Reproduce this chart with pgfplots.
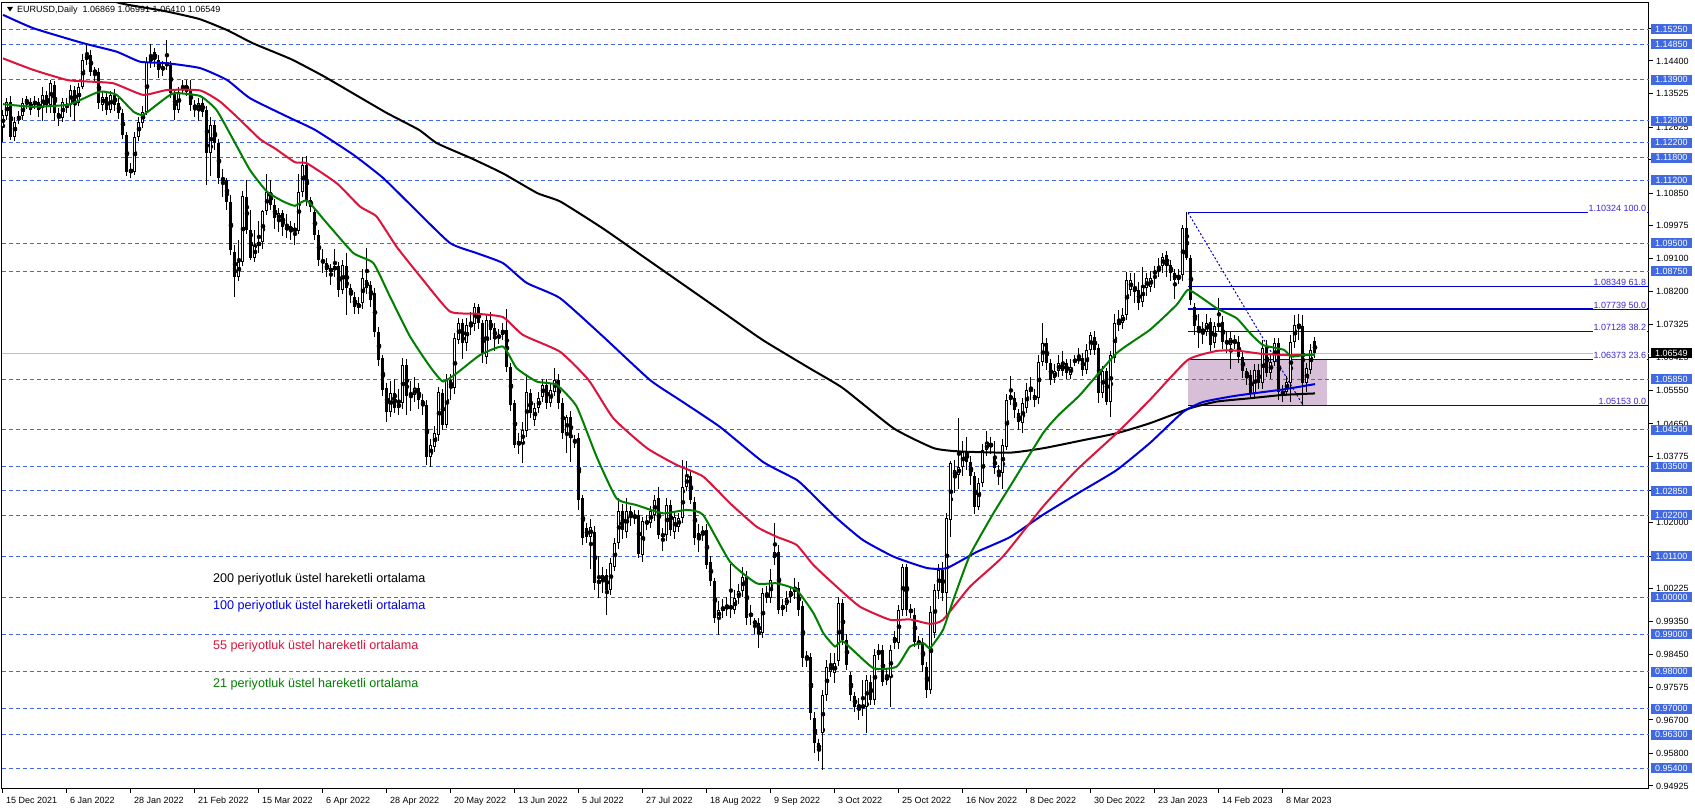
\documentclass[border=0pt]{standalone}
\usepackage{pgfplots}
\pgfplotsset{compat=1.18}
\usepackage{pgfplotstable}
\usepackage{fontspec}
\setmainfont{Liberation Sans}
\definecolor{hl}{RGB}{65,105,225}
\definecolor{fibc}{RGB}{0,0,205}
\definecolor{fibt}{RGB}{60,40,210}
\definecolor{thist}{RGB}{216,191,216}
\definecolor{emag}{RGB}{0,128,0}
\definecolor{emar}{RGB}{220,20,60}
\definecolor{emab}{RGB}{0,0,220}
\definecolor{pline}{RGB}{192,192,192}

\pgfplotstableread{
i o h l c
0 1.1264 1.1308 1.1223 1.1295
1 1.1291 1.1340 1.1282 1.1331
2 1.1331 1.1345 1.1228 1.1237
3 1.1237 1.1290 1.1225 1.1277
4 1.1282 1.1305 1.1270 1.1291
5 1.1291 1.1340 1.1282 1.1326
6 1.1326 1.1345 1.1310 1.1337
7 1.1331 1.1340 1.1295 1.1309
8 1.1324 1.1345 1.1310 1.1330
9 1.1330 1.1340 1.1290 1.1309
10 1.1313 1.1370 1.1280 1.1349
11 1.1349 1.1360 1.1300 1.1322
12 1.1322 1.1390 1.1300 1.1380
13 1.1376 1.1385 1.1280 1.1300
14 1.1300 1.1315 1.1265 1.1286
15 1.1286 1.1340 1.1275 1.1331
16 1.1317 1.1340 1.1300 1.1322
17 1.1322 1.1375 1.1290 1.1362
18 1.1362 1.1372 1.1280 1.1326
19 1.1326 1.1380 1.1318 1.1371
20 1.1371 1.1460 1.1365 1.1443
21 1.1443 1.1487 1.1430 1.1456
22 1.1456 1.1470 1.1400 1.1411
23 1.1416 1.1425 1.1385 1.1407
24 1.1411 1.1420 1.1310 1.1326
25 1.1322 1.1360 1.1305 1.1344
26 1.1344 1.1355 1.1295 1.1309
27 1.1309 1.1360 1.1300 1.1349
28 1.1349 1.1365 1.1305 1.1322
29 1.1326 1.1340 1.1285 1.1300
30 1.1300 1.1310 1.1230 1.1241
31 1.1241 1.1250 1.1130 1.1143
32 1.1147 1.1165 1.1125 1.1141
33 1.1143 1.1250 1.1135 1.1237
34 1.1237 1.1290 1.1225 1.1277
35 1.1273 1.1320 1.1260 1.1304
36 1.1304 1.1450 1.1295 1.1438
37 1.1438 1.1487 1.1420 1.1452
38 1.1465 1.1475 1.1425 1.1443
39 1.1443 1.1455 1.1395 1.1416
40 1.1416 1.1440 1.1400 1.1425
41 1.1434 1.1496 1.1415 1.1429
42 1.1429 1.1440 1.1340 1.1353
43 1.1353 1.1365 1.1282 1.1309
44 1.1309 1.1370 1.1300 1.1358
45 1.1362 1.1390 1.1350 1.1371
46 1.1376 1.1390 1.1345 1.1358
47 1.1362 1.1390 1.1305 1.1322
48 1.1322 1.1335 1.1290 1.1313
49 1.1309 1.1340 1.1280 1.1326
50 1.1326 1.1340 1.1290 1.1304
51 1.1309 1.1320 1.1106 1.1192
52 1.1192 1.1290 1.1130 1.1268
53 1.1268 1.1280 1.1200 1.1219
54 1.1219 1.1230 1.1110 1.1125
55 1.1125 1.1150 1.1075 1.1120
56 1.1120 1.1125 1.1040 1.1062
57 1.1062 1.1080 1.0920 1.0933
58 1.0928 1.0945 1.0806 1.0861
59 1.0861 1.0960 1.0850 1.0901
60 1.0901 1.1090 1.0890 1.1076
61 1.1076 1.1120 1.0975 1.0985
62 1.0985 1.1040 1.0905 1.0912
63 1.0912 1.0985 1.0900 1.0942
64 1.0942 1.1010 1.0925 1.0955
65 1.0955 1.1040 1.0935 1.1037
66 1.1037 1.1137 1.1025 1.1089
67 1.1089 1.1120 1.1040 1.1053
68 1.1053 1.1070 1.0990 1.1017
69 1.1013 1.1045 1.0980 1.1031
70 1.1031 1.1040 1.0970 1.0995
71 1.0995 1.1030 1.0965 1.0986
72 1.0996 1.1010 1.0960 1.0983
73 1.0985 1.1005 1.0946 1.0988
74 1.0982 1.1137 1.0975 1.1089
75 1.1089 1.1183 1.1075 1.1161
76 1.1161 1.1185 1.1050 1.1063
77 1.1067 1.1075 1.1035 1.1049
78 1.1035 1.1045 1.0960 1.0973
79 1.0973 1.0985 1.0890 1.0906
80 1.0906 1.0935 1.0870 1.0897
81 1.0897 1.0910 1.0860 1.0879
82 1.0883 1.0895 1.0838 1.0874
83 1.0879 1.0935 1.0860 1.0888
84 1.0888 1.0900 1.0805 1.0825
85 1.0825 1.0905 1.0815 1.0892
86 1.0888 1.0925 1.0758 1.0829
87 1.0829 1.0840 1.0790 1.0812
88 1.0807 1.0820 1.0760 1.0780
89 1.0776 1.0805 1.0760 1.0789
90 1.0789 1.0880 1.0775 1.0856
91 1.0852 1.0937 1.0815 1.0829
92 1.0838 1.0850 1.0780 1.0798
93 1.0816 1.0830 1.0700 1.0713
94 1.0713 1.0725 1.0620 1.0637
95 1.0642 1.0650 1.0540 1.0556
96 1.0561 1.0575 1.0471 1.0498
97 1.0498 1.0580 1.0485 1.0547
98 1.0547 1.0585 1.0495 1.0507
99 1.0507 1.0560 1.0490 1.0522
100 1.0521 1.0642 1.0505 1.0624
101 1.0624 1.0640 1.0490 1.0539
102 1.0543 1.0580 1.0500 1.0547
103 1.0543 1.0590 1.0525 1.0561
104 1.0561 1.0575 1.0505 1.0530
105 1.0530 1.0545 1.0490 1.0512
106 1.0516 1.0530 1.0355 1.0377
107 1.0377 1.0425 1.0350 1.0409
108 1.0404 1.0460 1.0390 1.0440
109 1.0436 1.0565 1.0420 1.0552
110 1.0547 1.0560 1.0450 1.0462
111 1.0462 1.0600 1.0455 1.0583
112 1.0583 1.0600 1.0530 1.0561
113 1.0561 1.0710 1.0545 1.0695
114 1.0691 1.0750 1.0680 1.0735
115 1.0735 1.0748 1.0640 1.0682
116 1.0682 1.0750 1.0660 1.0731
117 1.0727 1.0765 1.0705 1.0733
118 1.0733 1.0789 1.0715 1.0780
119 1.0780 1.0787 1.0720 1.0735
120 1.0735 1.0745 1.0630 1.0655
121 1.0646 1.0760 1.0625 1.0744
122 1.0744 1.0765 1.0690 1.0718
123 1.0722 1.0735 1.0660 1.0695
124 1.0695 1.0720 1.0680 1.0704
125 1.0704 1.0735 1.0690 1.0718
126 1.0718 1.0773 1.0605 1.0619
127 1.0619 1.0630 1.0500 1.0516
128 1.0521 1.0530 1.0400 1.0409
129 1.0409 1.0440 1.0385 1.0418
130 1.0413 1.0470 1.0359 1.0449
131 1.0445 1.0600 1.0430 1.0552
132 1.0547 1.0560 1.0480 1.0494
133 1.0476 1.0520 1.0460 1.0507
134 1.0507 1.0550 1.0495 1.0534
135 1.0538 1.0585 1.0525 1.0570
136 1.0570 1.0585 1.0505 1.0521
137 1.0521 1.0575 1.0510 1.0556
138 1.0552 1.0615 1.0540 1.0583
139 1.0583 1.0600 1.0505 1.0521
140 1.0521 1.0535 1.0425 1.0440
141 1.0440 1.0490 1.0386 1.0483
142 1.0485 1.0500 1.0364 1.0426
143 1.0420 1.0435 1.0400 1.0418
144 1.0426 1.0440 1.0235 1.0261
145 1.0265 1.0275 1.0140 1.0158
146 1.0185 1.0200 1.0145 1.0162
147 1.0162 1.0210 1.0075 1.0189
148 1.0176 1.0190 1.0020 1.0037
149 1.0042 1.0110 0.9997 1.0040
150 1.0042 1.0080 1.0010 1.0060
151 1.0060 1.0075 0.9952 1.0019
152 1.0019 1.0105 1.0005 1.0091
153 1.0082 1.0160 1.0070 1.0144
154 1.0144 1.0265 1.0130 1.0230
155 1.0230 1.0250 1.0155 1.0180
156 1.0176 1.0265 1.0160 1.0230
157 1.0230 1.0245 1.0190 1.0216
158 1.0212 1.0235 1.0195 1.0221
159 1.0221 1.0235 1.0105 1.0117
160 1.0113 1.0215 1.0095 1.0203
161 1.0198 1.0220 1.0180 1.0203
162 1.0198 1.0245 1.0185 1.0230
163 1.0221 1.0275 1.0205 1.0261
164 1.0265 1.0295 1.0155 1.0167
165 1.0167 1.0185 1.0123 1.0165
166 1.0167 1.0265 1.0150 1.0247
167 1.0247 1.0260 1.0165 1.0180
168 1.0176 1.0230 1.0155 1.0216
169 1.0189 1.0225 1.0175 1.0212
170 1.0212 1.0368 1.0200 1.0297
171 1.0297 1.0365 1.0285 1.0324
172 1.0324 1.0340 1.0250 1.0261
173 1.0256 1.0270 1.0140 1.0158
174 1.0158 1.0195 1.0120 1.0171
175 1.0171 1.0190 1.0150 1.0176
176 1.0180 1.0195 1.0075 1.0086
177 1.0095 1.0110 1.0030 1.0042
178 1.0042 1.0050 0.9930 0.9943
179 0.9943 0.9990 0.9898 0.9966
180 0.9966 0.9995 0.9945 0.9970
181 0.9970 1.0000 0.9950 0.9975
182 0.9970 1.0090 0.9945 0.9975
183 0.9966 1.0020 0.9955 0.9997
184 0.9997 1.0035 0.9980 1.0015
185 1.0015 1.0080 1.0000 1.0055
186 1.0055 1.0070 0.9925 0.9943
187 0.9948 0.9980 0.9925 0.9957
188 0.9934 0.9945 0.9900 0.9930
189 0.9930 0.9945 0.9862 0.9903
190 0.9903 1.0025 0.9890 1.0010
191 1.0006 1.0030 0.9985 1.0001
192 0.9997 1.0075 0.9985 1.0046
193 1.0104 1.0198 1.0085 1.0122
194 1.0122 1.0140 0.9955 0.9966
195 0.9966 0.9995 0.9950 0.9979
196 0.9979 1.0015 0.9960 0.9997
197 1.0001 1.0030 0.9985 1.0015
198 1.0015 1.0050 0.9995 1.0024
199 1.0024 1.0040 0.9950 0.9966
200 0.9975 0.9990 0.9813 0.9836
201 0.9840 0.9855 0.9813 0.9836
202 0.9840 0.9850 0.9670 0.9688
203 0.9674 0.9690 0.9580 0.9607
204 0.9607 0.9620 0.9560 0.9589
205 0.9634 0.9750 0.9536 0.9737
206 0.9737 0.9830 0.9720 0.9813
207 0.9800 0.9850 0.9785 0.9818
208 0.9795 0.9850 0.9770 0.9822
209 0.9827 1.0001 0.9815 0.9983
210 0.9983 0.9995 0.9870 0.9885
211 0.9885 0.9900 0.9805 0.9818
212 0.9791 0.9800 0.9720 0.9737
213 0.9733 0.9745 0.9690 0.9706
214 0.9707 0.9730 0.9670 0.9706
215 0.9707 0.9777 0.9680 0.9705
216 0.9706 0.9790 0.9634 0.9777
217 0.9773 0.9790 0.9710 0.9724
218 0.9724 0.9860 0.9710 0.9844
219 0.9844 0.9875 0.9830 0.9858
220 0.9858 0.9870 0.9760 0.9773
221 0.9777 0.9810 0.9765 0.9786
222 0.9786 0.9870 0.9706 0.9858
223 0.9876 0.9910 0.9860 0.9894
224 0.9876 0.9980 0.9860 0.9965
225 0.9965 1.0088 0.9950 1.0082
226 1.0082 1.0090 0.9950 0.9965
227 0.9965 0.9980 0.9945 0.9961
228 0.9952 0.9970 0.9865 0.9880
229 0.9880 0.9895 0.9860 0.9876
230 0.9880 0.9890 0.9800 0.9818
231 0.9813 0.9825 0.9730 0.9750
232 0.9750 0.9975 0.9740 0.9961
233 0.9903 1.0035 0.9890 1.0019
234 1.0015 1.0090 0.9995 1.0073
235 1.0073 1.0095 0.9990 1.0010
236 1.0010 1.0225 0.9935 1.0212
237 1.0207 1.0365 1.0160 1.0359
238 1.0341 1.0368 1.0280 1.0324
239 1.0328 1.0480 1.0290 1.0350
240 1.0350 1.0420 1.0325 1.0391
241 1.0391 1.0430 1.0340 1.0364
242 1.0364 1.0380 1.0300 1.0324
243 1.0324 1.0335 1.0222 1.0243
244 1.0243 1.0320 1.0235 1.0306
245 1.0306 1.0410 1.0295 1.0395
246 1.0395 1.0445 1.0380 1.0413
247 1.0404 1.0430 1.0385 1.0413
248 1.0373 1.0420 1.0330 1.0346
249 1.0341 1.0355 1.0300 1.0332
250 1.0332 1.0425 1.0290 1.0409
251 1.0404 1.0545 1.0395 1.0529
252 1.0529 1.0595 1.0515 1.0543
253 1.0534 1.0550 1.0480 1.0503
254 1.0494 1.0505 1.0450 1.0471
255 1.0467 1.0535 1.0440 1.0520
256 1.0507 1.0575 1.0495 1.0556
257 1.0552 1.0590 1.0530 1.0561
258 1.0529 1.0560 1.0510 1.0543
259 1.0534 1.0650 1.0520 1.0632
260 1.0632 1.0735 1.0620 1.0682
261 1.0682 1.0695 1.0610 1.0628
262 1.0628 1.0640 1.0570 1.0583
263 1.0588 1.0625 1.0575 1.0606
264 1.0606 1.0650 1.0590 1.0628
265 1.0628 1.0660 1.0595 1.0606
266 1.0628 1.0640 1.0585 1.0601
267 1.0597 1.0640 1.0585 1.0619
268 1.0632 1.0650 1.0620 1.0637
269 1.0637 1.0668 1.0625 1.0641
270 1.0641 1.0655 1.0595 1.0610
271 1.0610 1.0680 1.0600 1.0664
272 1.0664 1.0713 1.0650 1.0704
273 1.0700 1.0715 1.0650 1.0664
274 1.0668 1.0680 1.0520 1.0547
275 1.0547 1.0620 1.0535 1.0606
276 1.0606 1.0615 1.0515 1.0525
277 1.0525 1.0660 1.0485 1.0650
278 1.0641 1.0760 1.0630 1.0735
279 1.0735 1.0770 1.0715 1.0737
280 1.0735 1.0776 1.0720 1.0758
281 1.0758 1.0874 1.0745 1.0852
282 1.0825 1.0870 1.0810 1.0852
283 1.0834 1.0870 1.0790 1.0820
284 1.0825 1.0845 1.0770 1.0789
285 1.0794 1.0887 1.0780 1.0834
286 1.0829 1.0870 1.0810 1.0856
287 1.0834 1.0875 1.0820 1.0856
288 1.0870 1.0890 1.0830 1.0874
289 1.0874 1.0910 1.0860 1.0888
290 1.0889 1.0925 1.0870 1.0914
291 1.0919 1.0929 1.0860 1.0888
292 1.0892 1.0905 1.0850 1.0870
293 1.0870 1.0880 1.0800 1.0852
294 1.0852 1.0880 1.0840 1.0865
295 1.0865 1.1000 1.0850 1.0991
296 1.0991 1.1033 1.0905 1.0910
297 1.0910 1.0920 1.0785 1.0798
298 1.0780 1.0790 1.0705 1.0727
299 1.0727 1.0760 1.0669 1.0718
300 1.0718 1.0740 1.0680 1.0713
301 1.0713 1.0760 1.0700 1.0735
302 1.0740 1.0750 1.0660 1.0677
303 1.0682 1.0740 1.0670 1.0727
304 1.0727 1.0804 1.0715 1.0735
305 1.0740 1.0755 1.0665 1.0686
306 1.0682 1.0715 1.0655 1.0686
307 1.0677 1.0712 1.0613 1.0696
308 1.0688 1.0705 1.0665 1.0686
309 1.0686 1.0700 1.0630 1.0646
310 1.0646 1.0660 1.0588 1.0606
311 1.0606 1.0615 1.0570 1.0592
312 1.0597 1.0610 1.0534 1.0547
313 1.0547 1.0625 1.0535 1.0610
314 1.0610 1.0625 1.0560 1.0574
315 1.0574 1.0690 1.0560 1.0668
316 1.0672 1.0690 1.0590 1.0601
317 1.0601 1.0650 1.0585 1.0632
318 1.0632 1.0696 1.0620 1.0682
319 1.0682 1.0695 1.0530 1.0552
320 1.0548 1.0570 1.0525 1.0549
321 1.0552 1.0595 1.0540 1.0579
322 1.0574 1.0705 1.0524 1.0686
323 1.0686 1.0758 1.0670 1.0731
324 1.0731 1.0760 1.0690 1.0727
325 1.0727 1.0758 1.0516 1.0574
326 1.0574 1.0630 1.0552 1.0615
327 1.0610 1.0680 1.0600 1.0664
328 1.06869 1.06991 1.06410 1.06549
}\candles

\begin{document}
\begin{tikzpicture}[x=1pt,y=1pt,font=\fontsize{9}{10}\selectfont]
\useasboundingbox (0,0) rectangle (1695,810);
\fill[white] (0,0) rectangle (1695,810);
\begin{axis}[
  at={(2pt,21pt)}, anchor=south west, scale only axis,
  width=1647pt, height=786pt,
  xmin=-0.25, xmax=411.5, ymin=0.94844, ymax=1.15958,
  clip mode=individual,
  axis line style={line width=1pt, black},
  scaled ticks=false,
  xtick={0,16,...,320}, xticklabels={}, xtick pos=bottom,
  ytick={0.94925,0.95800,0.96700,0.97575,0.98450,0.99350,1.00225,1.01100,1.02000,1.02875,1.03775,1.04650,1.05550,1.06425,1.07325,1.08200,1.09100,1.09975,1.10850,1.11750,1.12625,1.13525,1.14400,1.15275},
  yticklabels={}, ytick pos=right,
  tick align=outside, major tick length=4pt,
  tick style={black, line width=1pt},
]
% Fibonacci zone
\fill[thist] (axis cs:296.25,1.05153) rectangle (axis cs:331,1.06373);
% current price line
\draw[pline, line width=1pt] (axis cs:-0.25,1.06549) -- (axis cs:411.5,1.06549);
% horizontal levels
\pgfplotsinvokeforeach{1.15250,1.14850,1.13900,1.12800,1.12200,1.11800,1.11200,1.09500,1.08750,1.05850,1.04500,1.03500,1.02850,1.02200,1.01100,1.00000,0.99000,0.98000,0.97000,0.96300,0.95400}{
  \draw[hl, line width=1pt, dash pattern=on 4pt off 3pt] (axis cs:-0.25,#1) -- (axis cs:411.5,#1);
}
% fib lines
\pgfplotsinvokeforeach{1.10324,1.08349,1.07739,1.07128,1.06373,1.05153}{
  \draw[fibc, line width=1.3pt] (axis cs:296.25,#1) -- (axis cs:411.5,#1);
}
\draw[fibc, line width=1pt, dash pattern=on 2pt off 2pt] (axis cs:296.25,1.10324) -- (axis cs:325,1.05153);

% candles: wicks
\addplot[only marks, mark=none, error bars/.cd, y dir=both, y explicit, error mark=none,
  error bar style={line width=1pt, black}]
  table[x=i, y expr={(\thisrow{h}+\thisrow{l})/2}, y error expr={(\thisrow{h}-\thisrow{l})/2}] {\candles};
% bodies
\addplot[only marks, mark=none, error bars/.cd, y dir=both, y explicit, error mark=none,
  error bar style={line width=3pt, black}]
  table[x=i, y expr={(\thisrow{o}+\thisrow{c})/2}, y error expr={max(abs(\thisrow{o}-\thisrow{c})/2,0.00014)}] {\candles};
% bullish interiors
\addplot[only marks, mark=none, error bars/.cd, y dir=both, y explicit, error mark=none,
  error bar style={line width=1pt, white}]
  table[x=i, y expr={(\thisrow{o}+\thisrow{c})/2}, y error expr={ifthenelse(\thisrow{c}>\thisrow{o}, max((\thisrow{c}-\thisrow{o})/2-0.00027,0), 0)}] {\candles};

% EMA 200
\addplot[black, line width=2pt, smooth, tension=0.3] coordinates {
(0,1.1700) (10,1.1668) (20,1.1635) (29,1.1596) (40,1.1575) (49,1.1553) (56,1.1523) (62.6,1.1487) (72,1.1445) (80,1.1400) (88,1.1350) (96,1.1300) (104,1.1255) (108.5,1.1219) (117,1.1179) (125,1.1138) (133.6,1.1085) (139.4,1.1062) (150,1.0990) (160,1.0915) (170,1.0840) (180,1.0765) (190,1.0690) (201.75,1.0614) (210,1.0561) (222.7,1.0453) (232.7,1.0400) (239.4,1.0391) (251.9,1.0388) (260.2,1.0400) (269.4,1.0420) (278.4,1.0440) (286.75,1.0467) (296.75,1.0507) (303.4,1.0525) (311.75,1.0534) (320,1.0543) (328,1.0547)};
% EMA 100
\addplot[emab, line width=2pt, smooth, tension=0.3] coordinates {
(0,1.1564) (7.6,1.1528) (20,1.1488) (28.4,1.1465) (34.3,1.1438) (41,1.1434) (49.25,1.1421) (56,1.1389) (61.75,1.1340) (71.75,1.1287) (78,1.1255) (87.6,1.1188) (95,1.1126) (102.6,1.1046) (111.75,1.0951) (118.4,1.0924) (125,1.0897) (130.9,1.0844) (139.25,1.0803) (150,1.0700) (161.75,1.0583) (169.25,1.0529) (179.25,1.0457) (190,1.0363) (198.4,1.0315) (201.75,1.0282) (208.4,1.0212) (215,1.0153) (222.75,1.0108) (231,1.0078) (236,1.0078) (243.4,1.0121) (251.75,1.0161) (260,1.0221) (269.25,1.0282) (278.4,1.0341) (286.75,1.0414) (295,1.0497) (300,1.0524) (307.75,1.0540) (316,1.0552) (320.25,1.0558) (328,1.0572)};
% EMA 55
\addplot[emar, line width=2pt, smooth, tension=0.3] coordinates {
(0,1.1447) (7.6,1.1416) (16,1.1389) (20.9,1.1385) (27.6,1.1380) (35,1.1349) (41,1.1362) (49.25,1.1361) (54.25,1.1331) (59.25,1.1282) (64.25,1.1230) (68,1.1205) (73,1.1168) (76,1.1165) (83.5,1.1111) (89.25,1.1049) (93.4,1.1022) (98.4,1.0941) (105,1.0852) (111.75,1.0767) (118.4,1.0761) (125,1.0752) (130,1.0704) (139.25,1.0659) (146.4,1.0583) (152.6,1.0480) (161,1.0400) (168.4,1.0355) (175,1.0324) (181.75,1.0252) (188.4,1.0189) (193.4,1.0162) (198.4,1.0140) (202.6,1.0086) (208.4,1.0028) (214.25,0.9974) (221.75,0.9939) (226.75,0.9940) (231.75,0.9928) (235,0.9939) (241.75,1.0028) (250,1.0109) (260,1.0243) (268.4,1.0341) (278.4,1.0440) (286.75,1.0530) (296.2,1.0637) (303.4,1.0661) (308.4,1.0662) (315,1.0653) (321.75,1.0650) (328,1.0652)};
% EMA 21
\addplot[emag, line width=2pt, smooth, tension=0.3] coordinates {
(0,1.1324) (7.6,1.1317) (16,1.1322) (19.25,1.1335) (24.25,1.1358) (28.4,1.1349) (32.6,1.1304) (35,1.1295) (38.4,1.1322) (42.6,1.1353) (49.25,1.1346) (53.4,1.1308) (57.6,1.1228) (61.75,1.1147) (66,1.1089) (70,1.1063) (73,1.1051) (76,1.1065) (81,1.1004) (87.6,1.0924) (92.6,1.0897) (96.75,1.0807) (101.75,1.0700) (106.75,1.0619) (110,1.0579) (113.4,1.0601) (119.25,1.0650) (125,1.0673) (128.4,1.0615) (133.4,1.0579) (138.4,1.0570) (143.4,1.0512) (148.4,1.0377) (153.4,1.0265) (158.4,1.0247) (165,1.0225) (170.9,1.0234) (175,1.0221) (181.75,1.0095) (188.4,1.0037) (193.4,1.0037) (198.4,1.0019) (202.6,0.9957) (205.1,0.9903) (208,0.9867) (210,0.9881) (217.6,0.9809) (223.4,0.9813) (226.75,0.9867) (230.1,0.9876) (231.75,0.9863) (235,0.9912) (237.6,0.9993) (241.75,1.0113) (247.6,1.0225) (251.75,1.0297) (260,1.0440) (264,1.0490) (269.25,1.0543) (278.4,1.0655) (286.75,1.0718) (293.4,1.0785) (296.2,1.0825) (299.25,1.0807) (303.4,1.0776) (308.4,1.0749) (311.75,1.0709) (315,1.0677) (320.25,1.0664) (322,1.0646) (325.25,1.0650) (328,1.0650)};

% fib labels
\begin{scope}[every node/.style={anchor=south east, inner sep=0.6pt, fill=white, text=fibt}]
\node at (axis cs:411.0,1.10324) {1.10324 100.0};
\node at (axis cs:411.0,1.08349) {1.08349 61.8};
\node at (axis cs:411.0,1.07739) {1.07739 50.0};
\node at (axis cs:411.0,1.07128) {1.07128 38.2};
\node at (axis cs:411.0,1.06373) {1.06373 23.6};
\node at (axis cs:411.0,1.05153) {1.05153 0.0};
\end{scope}

% right axis tick labels
\pgfplotsinvokeforeach{0.94925,0.95800,0.96700,0.97575,0.98450,0.99350,1.00225,1.01100,1.02000,1.02875,1.03775,1.04650,1.05550,1.06425,1.07325,1.08200,1.09100,1.09975,1.10850,1.11750,1.12625,1.13525,1.14400,1.15275}{
  \node[anchor=west, inner sep=0pt] at (axis cs:413.25,#1) {#1};
}
% level boxes
\pgfplotsinvokeforeach{1.15250,1.14850,1.13900,1.12800,1.12200,1.11800,1.11200,1.09500,1.08750,1.05850,1.04500,1.03500,1.02850,1.02200,1.01100,1.00000,0.99000,0.98000,0.97000,0.96300,0.95400}{
  \node[fill=hl, text=white, minimum width=41pt, minimum height=10pt, inner sep=0pt] at (axis cs:417.125,#1) {#1};
}
\node[fill=black, text=white, minimum width=41pt, minimum height=10pt, inner sep=0pt] at (axis cs:417.125,1.06549) {1.06549};

% date labels
\begin{scope}[every node/.style={anchor=north west, inner sep=0pt, yshift=-8pt}]
\node at (axis cs:0.75,0.94844) {15 Dec 2021};
\node at (axis cs:16.75,0.94844) {6 Jan 2022};
\node at (axis cs:32.75,0.94844) {28 Jan 2022};
\node at (axis cs:48.75,0.94844) {21 Feb 2022};
\node at (axis cs:64.75,0.94844) {15 Mar 2022};
\node at (axis cs:80.75,0.94844) {6 Apr 2022};
\node at (axis cs:96.75,0.94844) {28 Apr 2022};
\node at (axis cs:112.75,0.94844) {20 May 2022};
\node at (axis cs:128.75,0.94844) {13 Jun 2022};
\node at (axis cs:144.75,0.94844) {5 Jul 2022};
\node at (axis cs:160.75,0.94844) {27 Jul 2022};
\node at (axis cs:176.75,0.94844) {18 Aug 2022};
\node at (axis cs:192.75,0.94844) {9 Sep 2022};
\node at (axis cs:208.75,0.94844) {3 Oct 2022};
\node at (axis cs:224.75,0.94844) {25 Oct 2022};
\node at (axis cs:240.75,0.94844) {16 Nov 2022};
\node at (axis cs:256.75,0.94844) {8 Dec 2022};
\node at (axis cs:272.75,0.94844) {30 Dec 2022};
\node at (axis cs:288.75,0.94844) {23 Jan 2023};
\node at (axis cs:304.75,0.94844) {14 Feb 2023};
\node at (axis cs:320.75,0.94844) {8 Mar 2023};
\end{scope}
\end{axis}

% title
\fill[black] (7,803) -- (13,803) -- (10,798.5) -- cycle;
\node[anchor=west, inner sep=0pt] at (17,800) {EURUSD,Daily\ \ 1.06869 1.06991 1.06410 1.06549};

% annotations
\begin{scope}[every node/.style={anchor=west, inner sep=0pt, font=\fontsize{12.6}{14}\selectfont}]
\node[text=black] at (213,231) {200 periyotluk üstel hareketli ortalama};
\node[text=emab] at (213,204) {100 periyotluk üstel hareketli ortalama};
\node[text=emar] at (213,164) {55 periyotluk üstel hareketli ortalama};
\node[text=emag] at (213,126) {21 periyotluk üstel hareketli ortalama};
\end{scope}
\end{tikzpicture}
\end{document}
